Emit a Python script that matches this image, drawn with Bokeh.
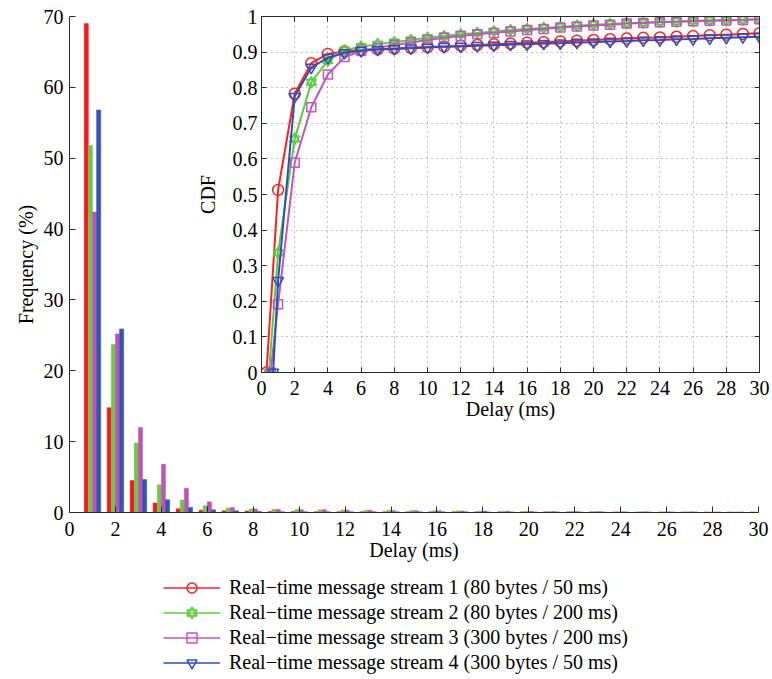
from bokeh.plotting import figure
from bokeh.layouts import column
from bokeh.models import (ColumnDataSource, Range1d, LinearAxis, Legend, LegendItem,
                          FixedTicker)
from bokeh.transform import dodge
from bokeh.embed import file_html
from bokeh.resources import INLINE

FONT = "Liberation Serif"
FS = "20px"

# ---------------- data ----------------
delay_bins = [1, 2, 3, 4, 5, 6, 7, 8, 9, 10, 11, 12, 13, 14, 15,
              16, 17, 18, 19, 20, 21, 22, 23, 24, 25, 26, 27, 28, 29, 30]

freq_s1 = [69.0, 14.8, 4.5, 1.33, 0.52, 0.33, 0.23, 0.2, 0.14, 0.13, 0.12, 0.12, 0.11, 0.11, 0.1,
           0.1, 0.1, 0.1, 0.09, 0.09, 0.09, 0.09, 0.09, 0.08, 0.08, 0.08, 0.08, 0.08, 0.08, 0.08]
freq_s2 = [51.8, 23.7, 9.8, 3.9, 1.75, 0.94, 0.62, 0.5, 0.45, 0.42, 0.38, 0.35, 0.32, 0.3, 0.27,
           0.25, 0.23, 0.21, 0.19, 0.17, 0.15, 0.14, 0.13, 0.12, 0.11, 0.1, 0.09, 0.08, 0.07, 0.06]
freq_s3 = [42.4, 25.2, 12.0, 6.8, 3.44, 1.5, 0.7, 0.5, 0.42, 0.4, 0.38, 0.34, 0.31, 0.29, 0.26,
           0.24, 0.22, 0.2, 0.18, 0.16, 0.15, 0.14, 0.13, 0.12, 0.11, 0.1, 0.09, 0.08, 0.07, 0.06]
freq_s4 = [56.8, 25.9, 4.65, 1.8, 0.7, 0.38, 0.23, 0.15, 0.12, 0.11, 0.1, 0.1, 0.1, 0.09, 0.09,
           0.09, 0.09, 0.08, 0.08, 0.08, 0.08, 0.08, 0.08, 0.07, 0.07, 0.07, 0.07, 0.07, 0.07, 0.07]

cdf_x_s1 = [0.3] + delay_bins
cdf_x_s2 = [0.45] + delay_bins
cdf_x_s3 = [0.55] + delay_bins
cdf_x_s4 = [0.7] + delay_bins

cdf_s1 = [0.0, 0.513, 0.783, 0.869, 0.895, 0.902, 0.906, 0.908, 0.910, 0.912, 0.914, 0.916, 0.918,
          0.920, 0.922, 0.924, 0.926, 0.928, 0.930, 0.932, 0.934, 0.936, 0.938, 0.940, 0.941,
          0.943, 0.945, 0.947, 0.949, 0.951, 0.953]
cdf_s2 = [0.0, 0.336, 0.656, 0.815, 0.876, 0.905, 0.915, 0.922, 0.928, 0.934, 0.940, 0.945, 0.950,
          0.954, 0.958, 0.962, 0.965, 0.968, 0.971, 0.974, 0.977, 0.979, 0.981, 0.983, 0.985,
          0.986, 0.988, 0.989, 0.990, 0.991, 0.993]
cdf_s3 = [0.0, 0.192, 0.589, 0.745, 0.837, 0.886, 0.903, 0.912, 0.920, 0.927, 0.934, 0.940, 0.945,
          0.950, 0.954, 0.958, 0.962, 0.965, 0.969, 0.972, 0.975, 0.977, 0.980, 0.982, 0.984,
          0.985, 0.987, 0.988, 0.989, 0.990, 0.992]
cdf_s4 = [0.0, 0.258, 0.775, 0.857, 0.884, 0.898, 0.904, 0.907, 0.909, 0.911, 0.913, 0.915, 0.916,
          0.918, 0.919, 0.921, 0.922, 0.924, 0.925, 0.927, 0.928, 0.930, 0.931, 0.933, 0.934,
          0.936, 0.937, 0.939, 0.940, 0.942, 0.943]

series_names = ["Real\u2212time message stream 1 (80 bytes / 50 ms)",
                "Real\u2212time message stream 2 (80 bytes / 200 ms)",
                "Real\u2212time message stream 3 (300 bytes / 200 ms)",
                "Real\u2212time message stream 4 (300 bytes / 50 ms)"]

main_x_ticks = [0, 2, 4, 6, 8, 10, 12, 14, 16, 18, 20, 22, 24, 26, 28, 30]
main_y_ticks = [0, 10, 20, 30, 40, 50, 60, 70]
cdf_y_ticks = [0, 0.1, 0.2, 0.3, 0.4, 0.5, 0.6, 0.7, 0.8, 0.9, 1]
cdf_y_labels = ["0", "0.1", "0.2", "0.3", "0.4", "0.5", "0.6", "0.7", "0.8", "0.9", "1"]

bar_colors = ["#ee1c1c", "#74c24a", "#b756b7", "#3553b0"]
line_colors = ["#ff1f1f", "#58cc3c", "#bf55bf", "#2f4fb5"]
markers = [["circle"], ["triangle", "inverted_triangle"], ["square"], ["inverted_triangle"]]
AX = "#2a2a2a"
cdf_sets = [(cdf_x_s1, cdf_s1), (cdf_x_s2, cdf_s2), (cdf_x_s3, cdf_s3), (cdf_x_s4, cdf_s4)]

# ---------------- main histogram ----------------
MAIN_H = 570
p = figure(width=770, height=MAIN_H, x_range=Range1d(0, 30), y_range=Range1d(0, 70),
           output_backend="svg", toolbar_location=None,
           min_border_left=69, min_border_right=10, min_border_top=16,
           min_border_bottom=MAIN_H - 16 - 496)
p.outline_line_color = None
p.grid.visible = False
p.align = "start"

src = ColumnDataSource(data=dict(x=delay_bins, s1=freq_s1, s2=freq_s2, s3=freq_s3, s4=freq_s4))
offsets = [-0.27, -0.09, 0.09, 0.27]
for key, off, col in zip(["s1", "s2", "s3", "s4"], offsets, bar_colors):
    p.vbar(x=dodge("x", off, range=p.x_range), top=key, width=0.18, bottom=0, source=src,
           fill_color=col, line_color=col, line_width=0.5)

for ax in (p.xaxis[0], p.yaxis[0]):
    ax.major_tick_in = 6
    ax.major_tick_out = 0
    ax.minor_tick_line_color = None
    ax.axis_line_color = AX
    ax.major_tick_line_color = AX
    ax.major_label_text_font = FONT
    ax.major_label_text_font_size = FS
    ax.major_label_text_color = "black"
    ax.axis_label_text_font = FONT
    ax.axis_label_text_font_size = FS
    ax.axis_label_text_font_style = "normal"
    ax.axis_label_text_color = "black"
p.xaxis[0].ticker = FixedTicker(ticks=main_x_ticks)
p.yaxis[0].ticker = FixedTicker(ticks=main_y_ticks)
p.xaxis[0].axis_label = "Delay (ms)"
p.yaxis[0].axis_label = "Frequency (%)"
p.xaxis[0].major_label_standoff = 9
p.xaxis[0].axis_label_standoff = 0
p.yaxis[0].major_label_standoff = 6
p.yaxis[0].axis_label_standoff = 4

# ---------------- inset CDF ----------------
ins = figure(width=579, height=426, x_range=Range1d(0, 30), y_range=Range1d(0, 1),
             output_backend="svg", toolbar_location=None,
             min_border_left=64, min_border_right=12, min_border_top=16, min_border_bottom=54)
ins.margin = (-MAIN_H, 0, 0, 192)
ins.align = "start"
ins.border_fill_alpha = 0
ins.background_fill_color = "white"
ins.outline_line_color = AX

marker_sizes = [11, 10, 9, 11]
for (xs, ys), col, mk, ms in zip(cdf_sets, line_colors, markers, marker_sizes):
    s = ColumnDataSource(data=dict(x=xs, y=ys))
    ins.line("x", "y", source=s, line_color=col, line_width=2)
    for m in mk:
        ins.scatter("x", "y", source=s, marker=m, size=ms, line_color=col,
                    fill_color=None, line_width=1.5)

ins.xgrid[0].ticker = FixedTicker(ticks=main_x_ticks)
ins.ygrid[0].ticker = FixedTicker(ticks=cdf_y_ticks)
for g in (ins.xgrid[0], ins.ygrid[0]):
    g.grid_line_color = "#555555"
    g.grid_line_alpha = 0.7
    g.grid_line_dash = "1 4"
    g.grid_line_width = 1

for ax in (ins.xaxis[0], ins.yaxis[0]):
    ax.major_tick_in = 5
    ax.major_tick_out = 0
    ax.minor_tick_line_color = None
    ax.axis_line_color = AX
    ax.major_tick_line_color = AX
    ax.major_label_text_font = FONT
    ax.major_label_text_font_size = FS
    ax.major_label_text_color = "black"
    ax.axis_label_text_font = FONT
    ax.axis_label_text_font_size = FS
    ax.axis_label_text_font_style = "normal"
    ax.axis_label_text_color = "black"
ins.xaxis[0].ticker = FixedTicker(ticks=main_x_ticks)
ins.yaxis[0].ticker = FixedTicker(ticks=cdf_y_ticks)
ins.yaxis[0].major_label_overrides = {t: l for t, l in zip(cdf_y_ticks, cdf_y_labels)}
ins.xaxis[0].axis_label = "Delay (ms)"
ins.yaxis[0].axis_label = "CDF"
ins.xaxis[0].major_label_standoff = 8
ins.xaxis[0].axis_label_standoff = 0
ins.yaxis[0].major_label_standoff = 4
ins.yaxis[0].axis_label_standoff = 11

# mirrored tick marks on the top and right of the inset box (no labels)
top_ax = LinearAxis(ticker=FixedTicker(ticks=main_x_ticks), major_label_text_color=None,
                    major_tick_in=5, major_tick_out=0, minor_tick_line_color=None,
                    major_label_standoff=0, axis_line_color=AX, major_tick_line_color=AX)
right_ax = LinearAxis(ticker=FixedTicker(ticks=cdf_y_ticks), major_label_text_color=None,
                      major_tick_in=5, major_tick_out=0, minor_tick_line_color=None,
                      major_label_standoff=0, axis_line_color=AX, major_tick_line_color=AX)
ins.add_layout(top_ax, "above")
ins.add_layout(right_ax, "right")

# ---------------- legend strip (series kept out of view, only legend shows) ----------------
LEG_H = 104
leg = figure(width=770, height=LEG_H, x_range=Range1d(-3, -2), y_range=Range1d(-3, -2),
             x_axis_type=None, y_axis_type=None, output_backend="svg", toolbar_location=None,
             min_border_left=0, min_border_right=0, min_border_top=0, min_border_bottom=0)
leg.margin = (571 - 426, 0, 0, 0)
leg.align = "start"
leg.outline_line_color = None
leg.grid.visible = False
leg.background_fill_alpha = 0
leg.border_fill_alpha = 0

items = []
for (xs, ys), name, col, mk in zip(cdf_sets, series_names, line_colors, markers):
    s = ColumnDataSource(data=dict(x=xs, y=ys))
    rs = [leg.line("x", "y", source=s, line_color=col, line_width=1.5)]
    for m in mk:
        rs.append(leg.scatter("x", "y", source=s, marker=m, size=9, line_color=col,
                              fill_color=None, line_width=1.5))
    items.append(LegendItem(label=name, renderers=rs))
legend = Legend(items=items, location=(94, 0), glyph_width=57, glyph_height=25,
                label_height=25, spacing=0, padding=0, margin=0, label_standoff=9,
                label_text_font=FONT, label_text_font_size=FS, label_text_color="black",
                border_line_color=None, background_fill_alpha=0)
leg.add_layout(legend, "center")

layout = column(p, ins, leg)
open("out.html", "w").write(file_html(layout, INLINE))
